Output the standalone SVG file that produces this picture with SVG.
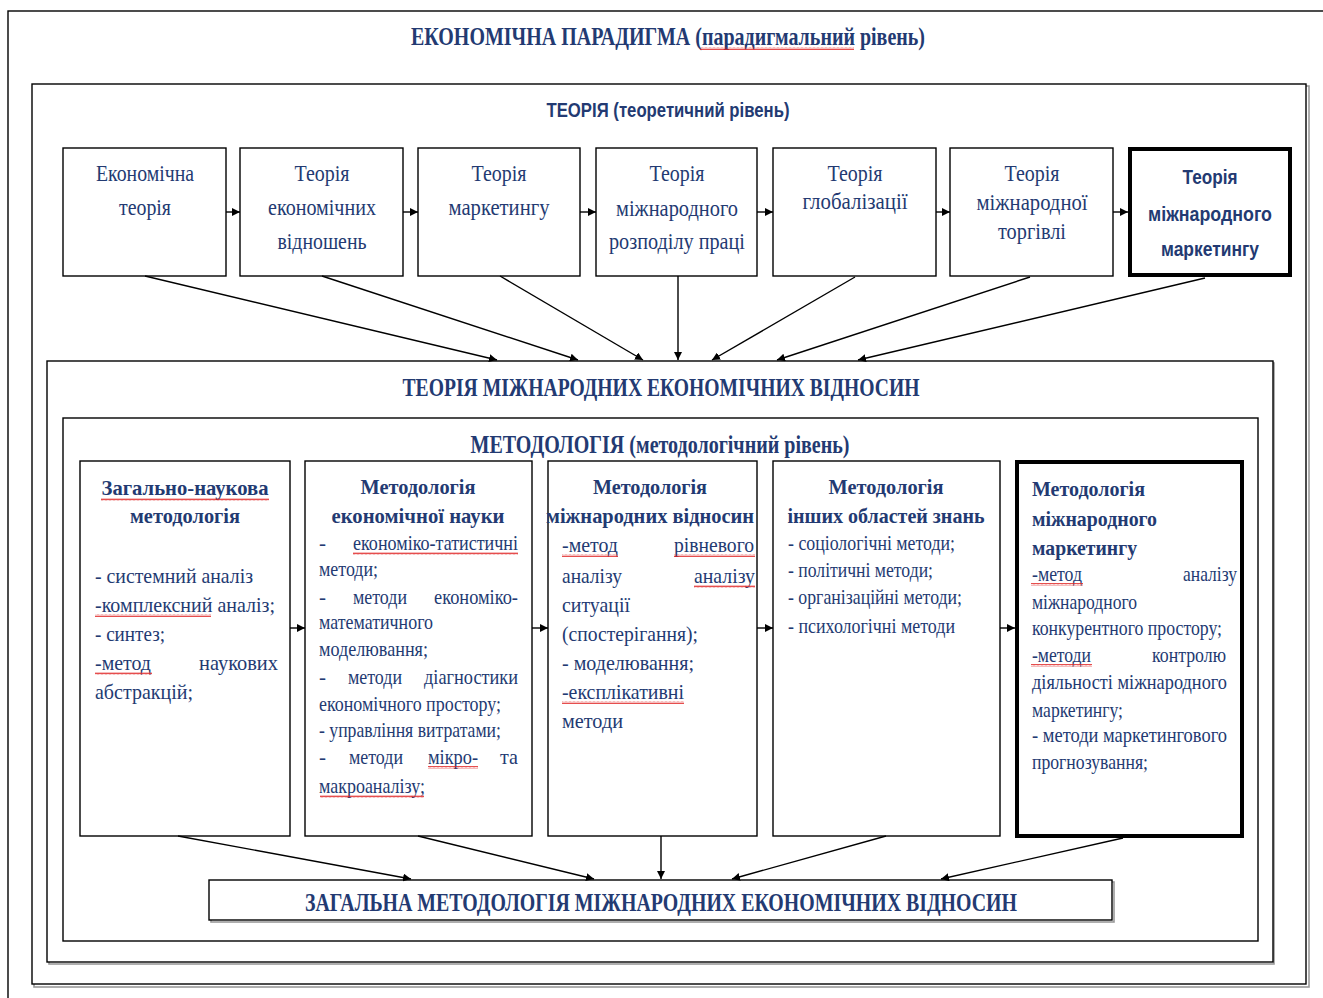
<svg xmlns="http://www.w3.org/2000/svg" width="1323" height="998" viewBox="0 0 1323 998">
<style>
.frame{fill:#fff;stroke:#000;stroke-width:1.4}
.shadow{fill:none;stroke:#9a9a9a;stroke-width:1.6}
.box{fill:#fff;stroke:#000;stroke-width:1.4}
.bold{fill:#fff;stroke:#000;stroke-width:4}
.t{font-family:"Liberation Serif","Times New Roman",serif;fill:#233a72}
.tb{font-family:"Liberation Serif","Times New Roman",serif;fill:#233a72;font-weight:bold}
.s{font-family:"Liberation Sans",Arial,sans-serif;fill:#233a72;font-weight:bold}
.c{text-anchor:middle}
.e{text-anchor:end}
.th{font-size:23px}
.mt{font-size:22px}
.mb{font-size:21px}
.con line{stroke:#000;stroke-width:1.4}
.sq{fill:url(#sq)}
</style>
<defs>
<marker id="ah" viewBox="0 0 10 10" refX="10" refY="5" markerWidth="8" markerHeight="8" markerUnits="userSpaceOnUse" orient="auto">
<path d="M0 0 L10 5 L0 10 Z" fill="#000"/>
</marker>
<pattern id="sq" width="4" height="3" patternUnits="userSpaceOnUse">
<path d="M0 2.4 L1 0.6 L2 2.4 L3 0.6 L4 2.4" fill="none" stroke="#e02020" stroke-width="0.8"/>
</pattern>
</defs>
<rect width="1323" height="998" fill="#fff"/>

<g id="paradigm">
<rect x="8" y="11" width="1340" height="1000" class="frame"/>
<text x="668" y="45" class="tb c" font-size="25" textLength="514" lengthAdjust="spacingAndGlyphs">ЕКОНОМІЧНА ПАРАДИГМА  (парадигмальний рівень)</text>
<rect x="700" y="47" width="154" height="3" class="sq"/>
</g>

<g id="theory-level">
<rect x="34" y="86" width="1275" height="901" class="shadow"/>
<rect x="32" y="84" width="1274" height="900" class="frame"/>
<text x="668" y="117" class="s c" font-size="20" textLength="243" lengthAdjust="spacingAndGlyphs">ТЕОРІЯ (теоретичний рівень)</text>
</g>

<g id="t1">
<rect x="63" y="148" width="163" height="128" class="box"/>
<text x="145" y="181" class="t th c" textLength="98" lengthAdjust="spacingAndGlyphs">Економічна</text>
<text x="145" y="215" class="t th c" textLength="52" lengthAdjust="spacingAndGlyphs">теорія</text>
</g>
<g id="t2">
<rect x="240" y="148" width="163" height="128" class="box"/>
<text x="322" y="181" class="t th c" textLength="55" lengthAdjust="spacingAndGlyphs">Теорія</text>
<text x="322" y="215" class="t th c" textLength="108" lengthAdjust="spacingAndGlyphs">економічних</text>
<text x="322" y="249" class="t th c" textLength="89" lengthAdjust="spacingAndGlyphs">відношень</text>
</g>
<g id="t3">
<rect x="418" y="148" width="162" height="128" class="box"/>
<text x="499" y="181" class="t th c" textLength="55" lengthAdjust="spacingAndGlyphs">Теорія</text>
<text x="499" y="215" class="t th c" textLength="101" lengthAdjust="spacingAndGlyphs">маркетингу</text>
</g>
<g id="t4">
<rect x="596" y="148" width="161" height="128" class="box"/>
<text x="677" y="181" class="t th c" textLength="55" lengthAdjust="spacingAndGlyphs">Теорія</text>
<text x="677" y="216" class="t th c" textLength="122" lengthAdjust="spacingAndGlyphs">міжнародного</text>
<text x="677" y="249" class="t th c" textLength="136" lengthAdjust="spacingAndGlyphs">розподілу праці</text>
</g>
<g id="t5">
<rect x="773" y="148" width="163" height="128" class="box"/>
<text x="855" y="181" class="t th c" textLength="55" lengthAdjust="spacingAndGlyphs">Теорія</text>
<text x="855" y="209" class="t th c" textLength="105" lengthAdjust="spacingAndGlyphs">глобалізації</text>
</g>
<g id="t6">
<rect x="950" y="148" width="163" height="128" class="box"/>
<text x="1032" y="181" class="t th c" textLength="55" lengthAdjust="spacingAndGlyphs">Теорія</text>
<text x="1032" y="210" class="t th c" textLength="111" lengthAdjust="spacingAndGlyphs">міжнародної</text>
<text x="1032" y="239" class="t th c" textLength="68" lengthAdjust="spacingAndGlyphs">торгівлі</text>
</g>
<g id="t7">
<rect x="1130" y="149" width="160" height="126" class="bold"/>
<text x="1210" y="184" class="s c" font-size="20" textLength="55" lengthAdjust="spacingAndGlyphs">Теорія</text>
<text x="1210" y="221" class="s c" font-size="20" textLength="124" lengthAdjust="spacingAndGlyphs">міжнародного</text>
<text x="1210" y="256" class="s c" font-size="20" textLength="98" lengthAdjust="spacingAndGlyphs">маркетингу</text>
</g>

<g id="tmev">
<rect x="49" y="363" width="1225" height="601" class="shadow"/>
<rect x="47" y="361" width="1226" height="601" class="frame"/>
<text x="661" y="396" class="tb c" font-size="25" textLength="517" lengthAdjust="spacingAndGlyphs">ТЕОРІЯ МІЖНАРОДНИХ ЕКОНОМІЧНИХ ВІДНОСИН</text>
</g>

<g id="methodology">
<rect x="63" y="418" width="1195" height="523" class="frame"/>
<text x="660" y="453" class="tb c" font-size="25" textLength="379" lengthAdjust="spacingAndGlyphs">МЕТОДОЛОГІЯ (методологічний рівень)</text>
</g>

<g id="m1">
<rect x="80" y="461" width="210" height="375" class="box"/>
<text x="185" y="495" class="tb mt c" textLength="167" lengthAdjust="spacingAndGlyphs">Загально-наукова</text>
<rect x="101" y="498" width="168" height="3" class="sq"/>
<text x="185" y="523" class="tb mt c" textLength="110" lengthAdjust="spacingAndGlyphs">методологія</text>
<text x="95" y="583" class="t mb" textLength="158" lengthAdjust="spacingAndGlyphs">- системний аналіз</text>
<text x="95" y="612" class="t mb" textLength="180" lengthAdjust="spacingAndGlyphs">-комплексний аналіз;</text>
<rect x="95" y="614" width="116" height="3" class="sq"/>
<text x="95" y="641" class="t mb" textLength="70" lengthAdjust="spacingAndGlyphs">- синтез;</text>
<text x="95" y="670" class="t mb" textLength="56" lengthAdjust="spacingAndGlyphs">-метод</text>
<rect x="95" y="672" width="57" height="3" class="sq"/>
<text x="278" y="670" class="t mb e" textLength="79" lengthAdjust="spacingAndGlyphs">наукових</text>
<text x="95" y="699" class="t mb" textLength="98" lengthAdjust="spacingAndGlyphs">абстракцій;</text>
</g>

<g id="m2">
<rect x="305" y="461" width="227" height="375" class="box"/>
<text x="418" y="494" class="tb mt c" textLength="115" lengthAdjust="spacingAndGlyphs">Методологія</text>
<text x="418" y="523" class="tb mt c" textLength="173" lengthAdjust="spacingAndGlyphs">економічної науки</text>
<text x="319" y="550" class="t mb">-</text>
<text x="518" y="550" class="t mb e" textLength="165" lengthAdjust="spacingAndGlyphs">економіко-татистичні</text>
<rect x="353" y="552" width="165" height="3" class="sq"/>
<text x="319" y="576" class="t mb" textLength="59" lengthAdjust="spacingAndGlyphs">методи;</text>
<text x="319" y="604" class="t mb">-</text>
<text x="353" y="604" class="t mb" textLength="54" lengthAdjust="spacingAndGlyphs">методи</text>
<text x="518" y="604" class="t mb e" textLength="84" lengthAdjust="spacingAndGlyphs">економіко-</text>
<text x="319" y="629" class="t mb" textLength="114" lengthAdjust="spacingAndGlyphs">математичного</text>
<text x="319" y="656" class="t mb" textLength="109" lengthAdjust="spacingAndGlyphs">моделювання;</text>
<text x="319" y="684" class="t mb">-</text>
<text x="348" y="684" class="t mb" textLength="54" lengthAdjust="spacingAndGlyphs">методи</text>
<text x="518" y="684" class="t mb e" textLength="94" lengthAdjust="spacingAndGlyphs">діагностики</text>
<text x="319" y="711" class="t mb" textLength="182" lengthAdjust="spacingAndGlyphs">економічного простору;</text>
<text x="319" y="737" class="t mb" textLength="182" lengthAdjust="spacingAndGlyphs">- управління витратами;</text>
<text x="319" y="764" class="t mb">-</text>
<text x="349" y="764" class="t mb" textLength="54" lengthAdjust="spacingAndGlyphs">методи</text>
<text x="428" y="764" class="t mb" textLength="50" lengthAdjust="spacingAndGlyphs">мікро-</text>
<rect x="428" y="766" width="50" height="3" class="sq"/>
<text x="518" y="764" class="t mb e" textLength="18" lengthAdjust="spacingAndGlyphs">та</text>
<text x="319" y="793" class="t mb" textLength="106" lengthAdjust="spacingAndGlyphs">макроаналізу;</text>
<rect x="320" y="795" width="104" height="3" class="sq"/>
</g>

<g id="m3">
<rect x="548" y="461" width="209" height="375" class="box"/>
<text x="650" y="494" class="tb mt c" textLength="114" lengthAdjust="spacingAndGlyphs">Методологія</text>
<text x="650" y="523" class="tb mt c" textLength="208" lengthAdjust="spacingAndGlyphs">міжнародних відносин</text>
<text x="562" y="552" class="t mb" textLength="56" lengthAdjust="spacingAndGlyphs">-метод</text>
<rect x="562" y="554" width="56" height="3" class="sq"/>
<text x="754" y="552" class="t mb e" textLength="80" lengthAdjust="spacingAndGlyphs">рівневого</text>
<rect x="674" y="554" width="81" height="3" class="sq"/>
<text x="562" y="583" class="t mb" textLength="60" lengthAdjust="spacingAndGlyphs">аналізу</text>
<text x="755" y="583" class="t mb e" textLength="61" lengthAdjust="spacingAndGlyphs">аналізу</text>
<rect x="694" y="585" width="61" height="3" class="sq"/>
<text x="562" y="612" class="t mb" textLength="68" lengthAdjust="spacingAndGlyphs">ситуації</text>
<text x="562" y="641" class="t mb" textLength="136" lengthAdjust="spacingAndGlyphs">(спостерігання);</text>
<text x="562" y="670" class="t mb" textLength="132" lengthAdjust="spacingAndGlyphs">- моделювання;</text>
<text x="562" y="699" class="t mb" textLength="122" lengthAdjust="spacingAndGlyphs">-експлікативні</text>
<rect x="562" y="701" width="122" height="3" class="sq"/>
<text x="562" y="728" class="t mb" textLength="61" lengthAdjust="spacingAndGlyphs">методи</text>
</g>

<g id="m4">
<rect x="773" y="461" width="227" height="375" class="box"/>
<text x="886" y="494" class="tb mt c" textLength="115" lengthAdjust="spacingAndGlyphs">Методологія</text>
<text x="886" y="523" class="tb mt c" textLength="197" lengthAdjust="spacingAndGlyphs">інших областей знань</text>
<text x="788" y="550" class="t mb" textLength="167" lengthAdjust="spacingAndGlyphs">- соціологічні методи;</text>
<text x="788" y="577" class="t mb" textLength="145" lengthAdjust="spacingAndGlyphs">- політичні методи;</text>
<text x="788" y="604" class="t mb" textLength="174" lengthAdjust="spacingAndGlyphs">- організаційні методи;</text>
<text x="788" y="633" class="t mb" textLength="167" lengthAdjust="spacingAndGlyphs">- психологічні методи</text>
</g>

<g id="m5">
<rect x="1017" y="462" width="225" height="374" class="bold"/>
<text x="1032" y="496" class="tb mt" textLength="113" lengthAdjust="spacingAndGlyphs">Методологія</text>
<text x="1032" y="526" class="tb mt" textLength="125" lengthAdjust="spacingAndGlyphs">міжнародного</text>
<text x="1032" y="555" class="tb mt" textLength="105" lengthAdjust="spacingAndGlyphs">маркетингу</text>
<text x="1032" y="581" class="t mb" textLength="50" lengthAdjust="spacingAndGlyphs">-метод</text>
<rect x="1031" y="583" width="52" height="3" class="sq"/>
<text x="1237" y="581" class="t mb e" textLength="54" lengthAdjust="spacingAndGlyphs">аналізу</text>
<text x="1032" y="609" class="t mb" textLength="105" lengthAdjust="spacingAndGlyphs">міжнародного</text>
<text x="1032" y="635" class="t mb" textLength="190" lengthAdjust="spacingAndGlyphs">конкурентного простору;</text>
<text x="1032" y="662" class="t mb" textLength="59" lengthAdjust="spacingAndGlyphs">-методи</text>
<rect x="1031" y="664" width="61" height="3" class="sq"/>
<text x="1226" y="662" class="t mb e" textLength="74" lengthAdjust="spacingAndGlyphs">контролю</text>
<text x="1032" y="689" class="t mb" textLength="195" lengthAdjust="spacingAndGlyphs">діяльності  міжнародного</text>
<text x="1032" y="717" class="t mb" textLength="91" lengthAdjust="spacingAndGlyphs">маркетингу;</text>
<text x="1032" y="742" class="t mb" textLength="195" lengthAdjust="spacingAndGlyphs">- методи маркетингового</text>
<text x="1032" y="769" class="t mb" textLength="116" lengthAdjust="spacingAndGlyphs">прогнозування;</text>
</g>

<g id="general">
<rect x="211" y="882" width="903" height="40" class="shadow"/>
<rect x="209" y="880" width="903" height="40" class="box"/>
<text x="661" y="911" class="tb c" font-size="25" textLength="712" lengthAdjust="spacingAndGlyphs">ЗАГАЛЬНА МЕТОДОЛОГІЯ МІЖНАРОДНИХ ЕКОНОМІЧНИХ ВІДНОСИН</text>
</g>

<g id="connectors" class="con">
<line x1="226" y1="212" x2="240" y2="212" marker-end="url(#ah)"/>
<line x1="403" y1="212" x2="418" y2="212" marker-end="url(#ah)"/>
<line x1="580" y1="212" x2="596" y2="212" marker-end="url(#ah)"/>
<line x1="757" y1="212" x2="773" y2="212" marker-end="url(#ah)"/>
<line x1="936" y1="212" x2="950" y2="212" marker-end="url(#ah)"/>
<line x1="1113" y1="212" x2="1128" y2="212" marker-end="url(#ah)"/>
<line x1="145" y1="276" x2="497" y2="360" marker-end="url(#ah)"/>
<line x1="322" y1="276" x2="578" y2="360" marker-end="url(#ah)"/>
<line x1="500" y1="276" x2="643" y2="360" marker-end="url(#ah)"/>
<line x1="678" y1="276" x2="678" y2="360" marker-end="url(#ah)"/>
<line x1="855" y1="277" x2="712" y2="360" marker-end="url(#ah)"/>
<line x1="1030" y1="277" x2="777" y2="360" marker-end="url(#ah)"/>
<line x1="1205" y1="278" x2="858" y2="360" marker-end="url(#ah)"/>
<line x1="290" y1="628" x2="305" y2="628" marker-end="url(#ah)"/>
<line x1="532" y1="628" x2="548" y2="628" marker-end="url(#ah)"/>
<line x1="757" y1="628" x2="773" y2="628" marker-end="url(#ah)"/>
<line x1="1000" y1="628" x2="1015" y2="628" marker-end="url(#ah)"/>
<line x1="178" y1="836" x2="411" y2="879" marker-end="url(#ah)"/>
<line x1="418" y1="836" x2="594" y2="879" marker-end="url(#ah)"/>
<line x1="661" y1="836" x2="661" y2="879" marker-end="url(#ah)"/>
<line x1="886" y1="836" x2="732" y2="879" marker-end="url(#ah)"/>
<line x1="1123" y1="838" x2="941" y2="879" marker-end="url(#ah)"/>
</g>
</svg>
